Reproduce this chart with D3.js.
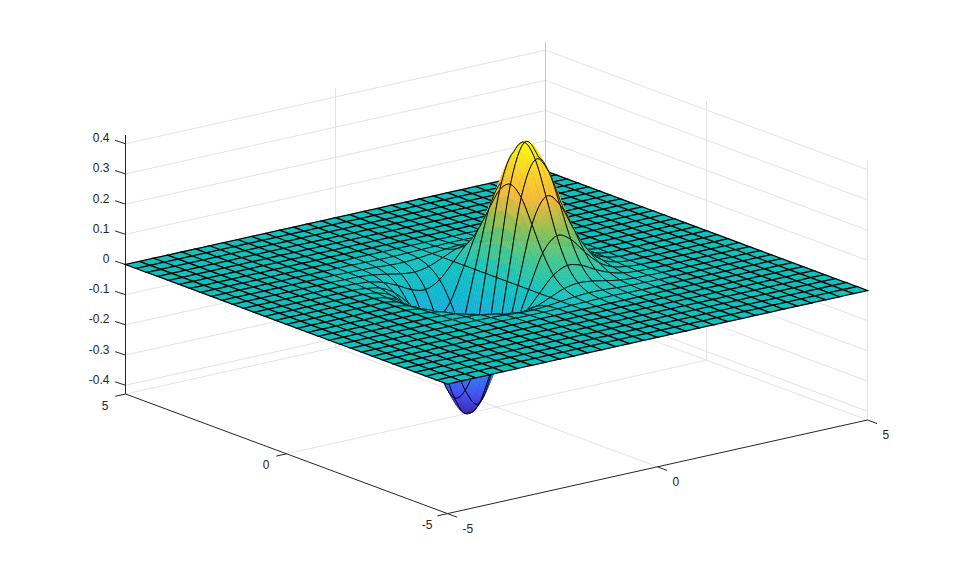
<!DOCTYPE html>
<html>
<head>
<meta charset="utf-8">
<style>
  html, body { margin: 0; background: #fff; }
  text { font-family: "Liberation Sans", Arial, sans-serif; font-size: 12px; fill: #262626; }
</style>
<script src="https://cdn.jsdelivr.net/npm/d3@7"></script>
</head>
<body>
<div id="chart"></div>
<script>
'use strict'

// mesh positions, x and y share them
const gridValues = [-5, -4.667, -4.333, -4, -3.667, -3.333, -3, -2.667, -2.333, -2, -1.667, -1.333, -1, -0.667, -0.333, 0,
  0.333, 0.667, 1, 1.333, 1.667, 2, 2.333, 2.667, 3, 3.333, 3.667, 4, 4.333, 4.667, 5]

// heights around the bump, x and y both run -2.333 .. 2.333, the sheet is flat outside it
const bumpFirstIndex = 8
const bumpHeights = [
  [0, 0, 0, -0.001, -0.002, -0.002, -0.001, 0, 0.001, 0.002, 0.002, 0.001, 0, 0, 0],
  [0, -0.001, -0.002, -0.004, -0.007, -0.008, -0.005, 0, 0.005, 0.008, 0.007, 0.004, 0.002, 0.001, 0],
  [-0.001, -0.002, -0.006, -0.014, -0.023, -0.027, -0.019, 0, 0.019, 0.027, 0.023, 0.014, 0.006, 0.002, 0.001],
  [-0.002, -0.006, -0.018, -0.038, -0.062, -0.072, -0.05, 0, 0.05, 0.072, 0.062, 0.038, 0.018, 0.006, 0.002],
  [-0.004, -0.013, -0.038, -0.083, -0.135, -0.157, -0.11, 0, 0.11, 0.157, 0.135, 0.083, 0.038, 0.013, 0.004],
  [-0.006, -0.023, -0.066, -0.144, -0.236, -0.274, -0.191, 0, 0.191, 0.274, 0.236, 0.144, 0.066, 0.023, 0.006],
  [-0.009, -0.033, -0.093, -0.202, -0.329, -0.383, -0.267, 0, 0.267, 0.383, 0.329, 0.202, 0.093, 0.033, 0.009],
  [-0.01, -0.037, -0.104, -0.225, -0.368, -0.427, -0.298, 0, 0.298, 0.427, 0.368, 0.225, 0.104, 0.037, 0.01],
  [-0.009, -0.033, -0.093, -0.202, -0.329, -0.383, -0.267, 0, 0.267, 0.383, 0.329, 0.202, 0.093, 0.033, 0.009],
  [-0.006, -0.023, -0.066, -0.144, -0.236, -0.274, -0.191, 0, 0.191, 0.274, 0.236, 0.144, 0.066, 0.023, 0.006],
  [-0.004, -0.013, -0.038, -0.083, -0.135, -0.157, -0.11, 0, 0.11, 0.157, 0.135, 0.083, 0.038, 0.013, 0.004],
  [-0.002, -0.006, -0.018, -0.038, -0.062, -0.072, -0.05, 0, 0.05, 0.072, 0.062, 0.038, 0.018, 0.006, 0.002],
  [-0.001, -0.002, -0.006, -0.014, -0.023, -0.027, -0.019, 0, 0.019, 0.027, 0.023, 0.014, 0.006, 0.002, 0.001],
  [0, -0.001, -0.002, -0.004, -0.007, -0.008, -0.005, 0, 0.005, 0.008, 0.007, 0.004, 0.002, 0.001, 0],
  [0, 0, 0, -0.001, -0.002, -0.002, -0.001, 0, 0.001, 0.002, 0.002, 0.001, 0, 0, 0]
]

const horizontalLimits = [-5, 5]
const zLimits = [-0.429, 0.429]
const horizontalTicks = [-5, 0, 5]
const zTicks = [-0.4, -0.3, -0.2, -0.1, 0, 0.1, 0.2, 0.3, 0.4]
const zTickLabels = ['-0.4', '-0.3', '-0.2', '-0.1', '0', '0.1', '0.2', '0.3', '0.4']
const xTickLabels = ['-5', '0', '5']
const yTickLabels = ['-5', '0', '5']

// parula colormap stops
const parulaStops = ['#3e26a8', '#4752f4', '#2d87f7', '#1fa5e4', '#0cb6cf', '#10c2bd', '#3fc68f', '#93c256', '#f4b93c', '#fbd32b', '#f9fb15']

const width = 959
const height = 577

// the view is orthographic, so each data axis adds a fixed screen offset
const front = { x: 447.5, y: 513.6 }
const xToDx = d3.scaleLinear().domain(horizontalLimits).range([0, 420])
const xToDy = d3.scaleLinear().domain(horizontalLimits).range([0, -93.6])
const yToDx = d3.scaleLinear().domain(horizontalLimits).range([0, -322])
const yToDy = d3.scaleLinear().domain(horizontalLimits).range([0, -119.6])
const zToDy = d3.scaleLinear().domain(zLimits).range([0, -259])

const project = (x, y, z) => [
  front.x + xToDx(x) + yToDx(y),
  front.y + xToDy(x) + yToDy(y) + zToDy(z)
]

const color = d3.scaleLinear()
  .domain(parulaStops.map((d, i) => zLimits[0] + (zLimits[1] - zLimits[0]) * i / (parulaStops.length - 1)))
  .range(parulaStops)
  .interpolate(d3.interpolateRgb)
  .clamp(true)

// i indexes x, j indexes y
const heightAt = (i, j) => {
  const row = bumpHeights[j - bumpFirstIndex]
  if (!row) return 0
  const value = row[i - bumpFirstIndex]
  return value === undefined ? 0 : value
}

// cubic drawing curve through the mesh heights, same idea as d3.curveCatmullRom
const cubic = (a, b, c, d, t) => b + 0.5 * t * (c - a + t * (2 * a - 5 * b + 4 * c - d + t * (3 * (b - c) + d - a)))

const smoothHeight = (i, j, s, t) => {
  const along = jj => cubic(heightAt(i - 1, jj), heightAt(i, jj), heightAt(i + 1, jj), heightAt(i + 2, jj), s)
  return cubic(along(j - 1), along(j), along(j + 1), along(j + 2), t)
}

const polygon = d3.line().curve(d3.curveLinearClosed)

const svg = d3.select('#chart')
  .append('svg')
    .attr('width', width)
    .attr('height', height)
    .style('display', 'block')

// back walls and floor grid
const gridColor = '#e3e3e3'
const grid = svg.append('g')
  .attr('fill', 'none')
  .attr('stroke', gridColor)
  .attr('stroke-width', 1)

const [xMin, xMax] = horizontalLimits
const [zMin, zMax] = zLimits

zTicks.forEach(z => {
  grid.append('path').attr('d', d3.line()([project(xMin, xMax, z), project(xMax, xMax, z), project(xMax, xMin, z)]))
})
grid.append('path').attr('d', d3.line()([project(xMin, xMax, zMin), project(xMax, xMax, zMin), project(xMax, xMin, zMin)]))
grid.append('path').attr('d', d3.line()([project(xMax, xMin, zMax), project(xMax, xMin, zMin)]))
grid.append('path').attr('d', d3.line()([project(0, xMax, zMax), project(0, xMax, zMin), project(0, xMin, zMin)]))
grid.append('path').attr('d', d3.line()([project(xMax, 0, zMax), project(xMax, 0, zMin), project(xMin, 0, zMin)]))
grid.append('path')
  .attr('d', d3.line()([project(xMax, xMax, zMax), project(xMax, xMax, zMin)]))
  .attr('stroke', '#c4c4c4')

// axis rulers
const axisColor = '#262626'
const axes = svg.append('g')
  .attr('fill', 'none')
  .attr('stroke', axisColor)
  .attr('stroke-width', 1)

axes.append('path').attr('d', d3.line()([project(xMin, xMax, zMax), project(xMin, xMax, zMin), project(xMin, xMin, zMin), project(xMax, xMin, zMin)]))

const labels = svg.append('g').style('opacity', 0.999)

zTicks.forEach((z, i) => {
  const [px, py] = project(xMin, xMax, z)
  axes.append('line').attr('x1', px).attr('y1', py).attr('x2', px - 10.4).attr('y2', py - 3.4)
  labels.append('text')
    .attr('x', px - 16)
    .attr('y', py - 1.5)
    .attr('text-anchor', 'end')
    .text(zTickLabels[i])
})

// ticks on the x ruler lean along y, ticks on the y ruler lean along x
horizontalTicks.forEach((x, i) => {
  const [px, py] = project(x, xMin, zMin)
  axes.append('line').attr('x1', px).attr('y1', py).attr('x2', px + 9.6).attr('y2', py + 3.6)
  labels.append('text')
    .attr('x', px + 15)
    .attr('y', py + 19)
    .attr('text-anchor', 'start')
    .text(xTickLabels[i])
})

horizontalTicks.forEach((y, i) => {
  const [px, py] = project(xMin, y, zMin)
  axes.append('line').attr('x1', px).attr('y1', py).attr('x2', px - 10.2).attr('y2', py + 2.3)
  labels.append('text')
    .attr('x', px - 20.5)
    .attr('y', py + 15.5)
    .attr('text-anchor', 'middle')
    .text(yTickLabels[i])
})

// cells go back to front so nearer ones cover farther ones
const cells = []
for (let i = gridValues.length - 2; i >= 0; i--) {
  for (let j = gridValues.length - 2; j >= 0; j--) {
    const flat = heightAt(i, j) === 0 && heightAt(i + 1, j) === 0 && heightAt(i, j + 1) === 0 && heightAt(i + 1, j + 1) === 0
    cells.push({ i, j, steps: flat ? 1 : 6 })
  }
}

const cellPoint = (cell, s, t) => {
  const x = gridValues[cell.i] + (gridValues[cell.i + 1] - gridValues[cell.i]) * s
  const y = gridValues[cell.j] + (gridValues[cell.j + 1] - gridValues[cell.j]) * t
  const z = cell.steps === 1 ? 0 : smoothHeight(cell.i, cell.j, s, t)
  return { z, p: project(x, y, z) }
}

// split a cell so its colour follows the height across it
const pieces = cell => {
  const n = cell.steps
  const out = []
  for (let a = n - 1; a >= 0; a--) {
    for (let b = n - 1; b >= 0; b--) {
      const corners = [
        cellPoint(cell, a / n, b / n),
        cellPoint(cell, (a + 1) / n, b / n),
        cellPoint(cell, (a + 1) / n, (b + 1) / n),
        cellPoint(cell, a / n, (b + 1) / n)
      ]
      out.push({ points: corners.map(c => c.p), z: d3.mean(corners, c => c.z) })
    }
  }
  return out
}

const outline = cell => {
  const n = cell.steps
  const pts = []
  for (let k = 0; k < n; k++) pts.push(cellPoint(cell, k / n, 0).p)
  for (let k = 0; k < n; k++) pts.push(cellPoint(cell, 1, k / n).p)
  for (let k = 0; k < n; k++) pts.push(cellPoint(cell, 1 - k / n, 1).p)
  for (let k = 0; k < n; k++) pts.push(cellPoint(cell, 0, 1 - k / n).p)
  return pts
}

const cellGroups = svg.append('g')
  .selectAll('g')
  .data(cells)
  .join('g')

cellGroups.selectAll('path.piece')
  .data(pieces)
  .join('path')
    .attr('class', 'piece')
    .attr('d', d => polygon(d.points))
    .attr('fill', d => color(d.z))
    .attr('stroke', d => color(d.z))
    .attr('stroke-width', 0.4)

cellGroups.append('path')
  .attr('d', d => polygon(outline(d)))
  .attr('fill', 'none')
  .attr('stroke', '#000')
  .attr('stroke-width', d => d.steps === 1 ? 1.25 : 0.9)
</script>
</body>
</html>
